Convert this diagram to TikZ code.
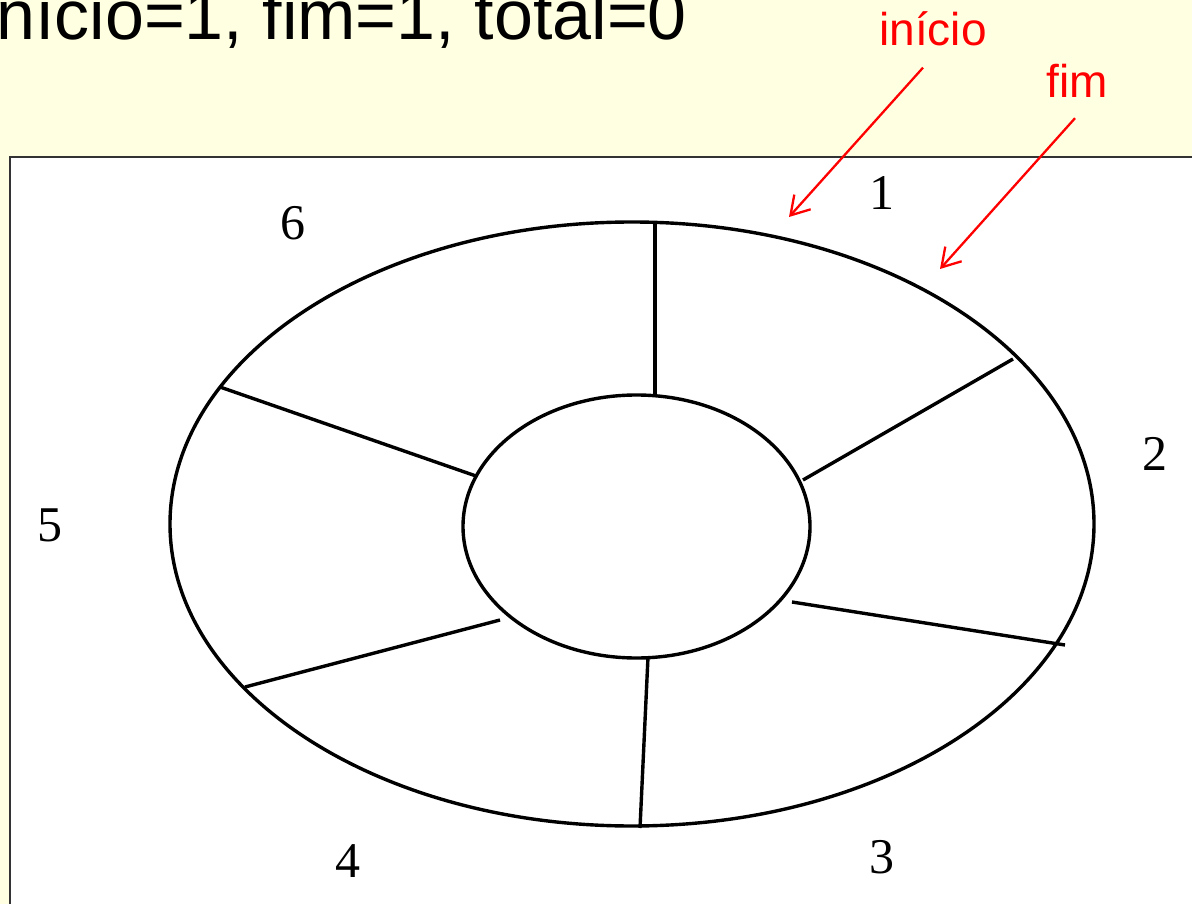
\documentclass[tikz,border=0pt]{standalone}
\usepackage{fontspec}
\setmainfont{Liberation Serif}
\setsansfont{Liberation Sans}
\usetikzlibrary{arrows.meta}
\definecolor{fundo}{RGB}{255,255,225}

\begin{document}
\begin{tikzpicture}[x=1pt,y=-1pt,
    num/.style={font=\fontsize{50}{50}\selectfont,inner sep=0pt,anchor=base},
    rotulo/.style={red,font=\sffamily\fontsize{46}{46}\selectfont,inner sep=0pt,anchor=base},
    seta/.style={red,line width=2.3pt,-{Straight Barb[length=18pt,width=22pt]}},
    linha/.style={line width=3.4pt}]
    \useasboundingbox (0,0) rectangle (1192,904);

    % fundo e quadro
    \fill[fundo] (0,0) rectangle (1192,904);
    \draw[black!80,line width=2pt,fill=white] (10,157) rectangle (1215,925);

    % titulo
    \node[font=\sffamily\fontsize{70}{70}\selectfont,inner sep=0pt,anchor=base west]
        (titulo) at (-4,40) {nício=1, fim=1, total=0};

    % elipses
    \draw[linha] (632,524) ellipse [x radius=462, y radius=302];
    \draw[linha] (636.5,526.5) ellipse [x radius=173.5, y radius=131.5];

    % raios
    \draw[linha] (655,222) -- (655,397);
    \draw[linha] (1013,359) -- (803,480);
    \draw[linha] (1065,645) -- (792,602);
    \draw[linha] (640,828) -- (648,657);
    \draw[linha] (245,687) -- (500,620);
    \draw[linha] (220,387) -- (476,476);

    % posicoes
    \node[num] (n1) at (882,210) {1};
    \node[num] (n2) at (1155,470) {2};
    \node[num] (n3) at (882,873) {3};
    \node[num] (n4) at (348,877) {4};
    \node[num] (n5) at (50,541) {5};
    \node[num] (n6) at (293,240) {6};

    % inicio e fim
    \node[rotulo] (inicio) at (933,46) {início};
    \node[rotulo] (fim) at (1077,98) {fim};
    \coordinate (pIni) at (789,217);
    \coordinate (pFim) at (940,269);
    \draw[seta] ([xshift=-10pt,yshift=-21pt]inicio.south) -- (pIni);
    \draw[seta] ([xshift=-2pt,yshift=-20pt]fim.south) -- (pFim);
\end{tikzpicture}
\end{document}
